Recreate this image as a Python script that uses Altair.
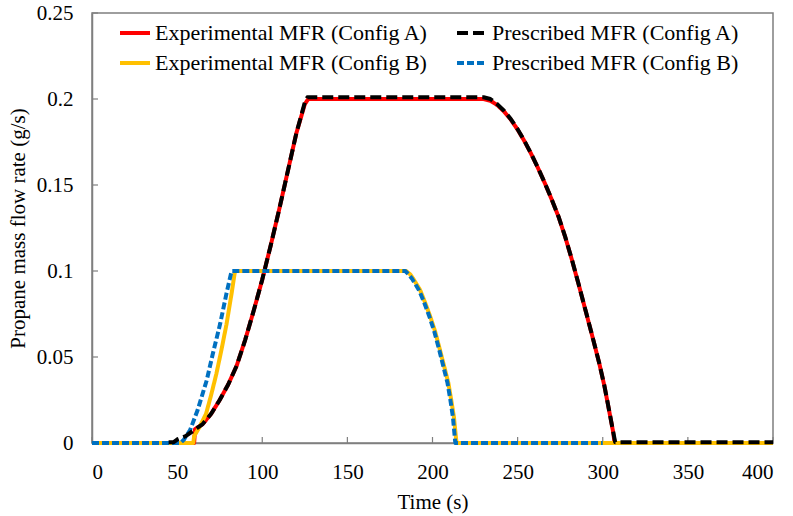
import altair as alt
import pandas as pd

# ---- data ----
series_names = [
    "Experimental MFR (Config A)",
    "Prescribed MFR (Config A)",
    "Experimental MFR (Config B)",
    "Prescribed MFR (Config B)",
]
legend_order = [series_names[0], series_names[2], series_names[1], series_names[3]]

expA_t = [0, 60, 60.5, 65, 70, 75, 80, 85, 90, 95, 100, 105, 110, 115, 120, 125, 127,
          230, 234, 238, 242, 246, 250, 254, 258, 262, 266, 270, 274, 278, 282, 286, 290, 294, 298,
          301, 304, 306, 307, 400]
expA_v = [0, 0, 0.008, 0.011, 0.017, 0.025, 0.034, 0.045, 0.060, 0.077, 0.095, 0.115, 0.136, 0.158, 0.180, 0.197, 0.2,
          0.2, 0.199, 0.1965, 0.1928, 0.188, 0.1822, 0.1755, 0.168, 0.1598, 0.151, 0.1416, 0.1316, 0.1196, 0.1061,
          0.0916, 0.0766, 0.0616, 0.0461, 0.033, 0.0175, 0.007, 0, 0]

presA_t = [45, 48, 50, 55, 60, 65, 70, 75, 80, 85, 90, 95, 100, 105, 110, 115, 120, 125, 126.5,
           230, 234, 238, 242, 246, 250, 254, 258, 262, 266, 270, 274, 278, 282, 286, 290, 294, 298,
           301, 304, 306, 307.3, 400]
presA_v = [0.0005, 0.0005, 0.002, 0.004, 0.0075, 0.011, 0.017, 0.025, 0.034, 0.045, 0.060, 0.077, 0.095, 0.115,
           0.136, 0.158, 0.180, 0.198, 0.201,
           0.201, 0.2, 0.197, 0.1932, 0.1883, 0.1824, 0.1756, 0.1681, 0.1599, 0.1511, 0.1417, 0.1317, 0.1197, 0.1062,
           0.0917, 0.0767, 0.0617, 0.0462, 0.0331, 0.0176, 0.0072, 0.0005, 0.0005]

expB_t = [0, 59.5, 60, 63, 67, 70, 73, 76, 79, 82, 84, 184.5, 187, 189, 192.7, 195.5, 198.5, 201.5,
          204.4, 207, 209.3, 211, 212.6, 214, 214.5, 400]
expB_v = [0, 0, 0.004, 0.009, 0.017, 0.028, 0.040, 0.054, 0.069, 0.087, 0.1, 0.1, 0.098, 0.095, 0.089, 0.082, 0.074,
          0.065, 0.054, 0.044, 0.035, 0.025, 0.015, 0.001, 0, 0]

presB_t = [0, 52, 54, 57.6, 62, 67.4, 71, 75.2, 79, 82, 184, 186, 188, 192, 195, 198, 201,
           204, 206.5, 208.8, 210.5, 212, 213.3, 213.5, 300]
presB_v = [0, 0, 0.002, 0.0075, 0.019, 0.0365, 0.052, 0.069, 0.087, 0.1, 0.1, 0.098, 0.0955, 0.089, 0.082, 0.074,
           0.065, 0.054, 0.044, 0.035, 0.025, 0.015, 0.001, 0, 0]

x_ticks = [0, 50, 100, 150, 200, 250, 300, 350, 400]
y_ticks = [0, 0.05, 0.1, 0.15, 0.2, 0.25]

colors = ["#FF0000", "#000000", "#FFC000", "#0070C0"]
dashes = [[1, 0], [11, 5], [1, 0], [7, 3]]
widths = [4, 4, 2.5, 2.5]

frames = []
for name, t, v in zip(series_names, [expA_t, presA_t, expB_t, presB_t], [expA_v, presA_v, expB_v, presB_v]):
    frames.append(pd.DataFrame({"t": t, "v": v, "series": name}))
df = pd.concat(frames, ignore_index=True)

FONT = "Liberation Serif"
W, H = 681, 430

legend = alt.Legend(
    orient="none", legendX=26, legendY=3, columns=2, title=None, values=legend_order,
    symbolType="stroke", symbolSize=900, labelFont=FONT, labelFontSize=22,
    labelColor="#000000", labelOffset=3, columnPadding=20, rowPadding=2, padding=0,
    labelLimit=400,
)

xs = alt.Scale(domain=[0, 400], nice=False)
ys = alt.Scale(domain=[0, 0.25], nice=False)

def series_layer(name):
    return alt.Chart(df).transform_filter(alt.datum.series == name).mark_line(strokeCap="butt", strokeJoin="round").encode(
        x=alt.X("t:Q", scale=xs, axis=alt.Axis(values=x_ticks, title="Time (s)", tickSize=0,
                                               labelPadding=18, titlePadding=9, domainColor="#7f7f7f",
                                               domainWidth=1.5)),
        y=alt.Y("v:Q", scale=ys, axis=alt.Axis(values=y_ticks, format="~g", title="Propane mass flow rate (g/s)",
                                               tickSize=0, labelPadding=19, titlePadding=8,
                                               domainColor="#7f7f7f", domainWidth=1.5)),
        color=alt.Color("series:N", scale=alt.Scale(domain=series_names, range=colors), legend=legend),
        strokeDash=alt.StrokeDash("series:N", scale=alt.Scale(domain=series_names, range=dashes), legend=legend),
        strokeWidth=alt.StrokeWidth("series:N", scale=alt.Scale(domain=series_names, range=widths), legend=legend),
    )

xt = alt.Chart(pd.DataFrame({"tick": x_ticks})).mark_rule(color="#7f7f7f", strokeWidth=1.2).encode(
    x=alt.X("tick:Q", scale=xs), y=alt.value(H), y2=alt.value(H - 6))
yt = alt.Chart(pd.DataFrame({"tick": y_ticks})).mark_rule(color="#7f7f7f", strokeWidth=1.2).encode(
    y=alt.Y("tick:Q", scale=ys), x=alt.value(0), x2=alt.value(6))

chart = alt.layer(
    xt, yt,
    series_layer(series_names[0]),
    series_layer(series_names[2]),
    series_layer(series_names[3]),
    series_layer(series_names[1]),
).properties(
    width=W, height=H,
    autosize=alt.AutoSizeParams(type="none"),
    padding={"left": 92, "top": 13, "right": 20, "bottom": 73},
).configure_view(
    stroke="#7f7f7f", strokeWidth=1.5
).configure_axis(
    labelFont=FONT, titleFont=FONT, labelFontSize=21, titleFontSize=21,
    labelColor="#000000", titleColor="#000000", titleFontWeight="normal", grid=False,
)

chart.save("out.html", embed_options={"renderer": "svg", "actions": False})
